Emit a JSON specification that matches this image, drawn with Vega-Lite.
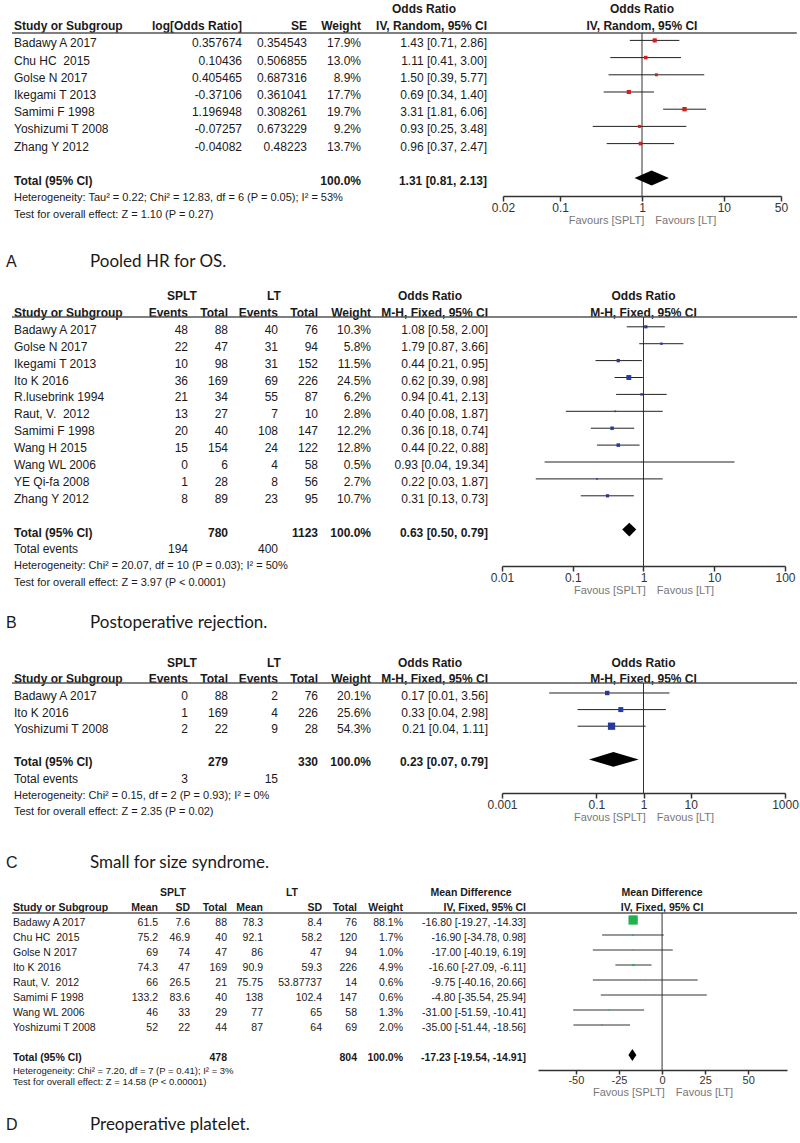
{
"$schema":"https://vega.github.io/schema/vega-lite/v6.json",
"padding":0,
"background":"white",
"spacing":0,
"config":{
 "view":{"stroke":null},
 "text":{"font":"Liberation Sans","fontSize":12,"color":"#1a1a1a","baseline":"middle"},
 "axis":{"grid":false,"domainColor":"#333","domainWidth":1.5,"tickColor":"#333","tickWidth":1.5,"tickSize":5,"labelFont":"Liberation Sans","labelFontSize":12,"labelColor":"#333","labelPadding":1,"labelFlush":false,"labelOverlap":false,"titleFont":"Liberation Sans","titleFontSize":11,"titleFontWeight":"normal","titleColor":"#777","titlePadding":1}
},
"datasets":{
"A":[
{"kind":"h0","row":0,"g3":"Odds Ratio","p":"Odds Ratio"},
{"kind":"h","row":1,"study":"Study or Subgroup","c1":"log[Odds Ratio]","c2":"SE","wt":"Weight","ci":"IV, Random, 95% CI","p":"IV, Random, 95% CI"},
{"kind":"s","row":2,"study":"Badawy A 2017","c1":0.357674,"c2":0.354543,"w":17.9,"est":1.43,"lo":0.71,"hi":2.86,"ci":"1.43 [0.71, 2.86]"},
{"kind":"s","row":3,"study":"Chu HC\u00a0 2015","c1":0.10436,"c2":0.506855,"w":13.0,"est":1.11,"lo":0.41,"hi":3.00,"ci":"1.11 [0.41, 3.00]"},
{"kind":"s","row":4,"study":"Golse N 2017","c1":0.405465,"c2":0.687316,"w":8.9,"est":1.50,"lo":0.39,"hi":5.77,"ci":"1.50 [0.39, 5.77]"},
{"kind":"s","row":5,"study":"Ikegami T 2013","c1":-0.37106,"c2":0.361041,"w":17.7,"est":0.69,"lo":0.34,"hi":1.40,"ci":"0.69 [0.34, 1.40]"},
{"kind":"s","row":6,"study":"Samimi F 1998","c1":1.196948,"c2":0.308261,"w":19.7,"est":3.31,"lo":1.81,"hi":6.06,"ci":"3.31 [1.81, 6.06]"},
{"kind":"s","row":7,"study":"Yoshizumi T 2008","c1":-0.07257,"c2":0.673229,"w":9.2,"est":0.93,"lo":0.25,"hi":3.48,"ci":"0.93 [0.25, 3.48]"},
{"kind":"s","row":8,"study":"Zhang Y 2012","c1":-0.04082,"c2":0.48223,"w":13.7,"est":0.96,"lo":0.37,"hi":2.47,"ci":"0.96 [0.37, 2.47]"},
{"kind":"t","row":10,"study":"Total (95% CI)","w":100,"est":1.31,"lo":0.81,"hi":2.13,"ci":"1.31 [0.81, 2.13]"},
{"kind":"n","row":11,"study":"Heterogeneity: Tau² = 0.22; Chi² = 12.83, df = 6 (P = 0.05); I² = 53%"},
{"kind":"n","row":12,"study":"Test for overall effect: Z = 1.10 (P = 0.27)"},
{"kind":"L","row":15,"letter":"A","title":"Pooled HR for OS."}
],
"B":[
{"kind":"h0","row":0,"g1":"SPLT","g2":"LT","g3":"Odds Ratio","p":"Odds Ratio"},
{"kind":"h","row":1,"study":"Study or Subgroup","e1":"Events","t1":"Total","e2":"Events","t2":"Total","wt":"Weight","ci":"M-H, Fixed, 95% CI","p":"M-H, Fixed, 95% CI"},
{"kind":"s","row":2,"study":"Badawy A 2017","e1":48,"t1":88,"e2":40,"t2":76,"w":10.3,"est":1.08,"lo":0.58,"hi":2.00,"ci":"1.08 [0.58, 2.00]"},
{"kind":"s","row":3,"study":"Golse N 2017","e1":22,"t1":47,"e2":31,"t2":94,"w":5.8,"est":1.79,"lo":0.87,"hi":3.66,"ci":"1.79 [0.87, 3.66]"},
{"kind":"s","row":4,"study":"Ikegami T 2013","e1":10,"t1":98,"e2":31,"t2":152,"w":11.5,"est":0.44,"lo":0.21,"hi":0.95,"ci":"0.44 [0.21, 0.95]"},
{"kind":"s","row":5,"study":"Ito K 2016","e1":36,"t1":169,"e2":69,"t2":226,"w":24.5,"est":0.62,"lo":0.39,"hi":0.98,"ci":"0.62 [0.39, 0.98]"},
{"kind":"s","row":6,"study":"R.lusebrink 1994","e1":21,"t1":34,"e2":55,"t2":87,"w":6.2,"est":0.94,"lo":0.41,"hi":2.13,"ci":"0.94 [0.41, 2.13]"},
{"kind":"s","row":7,"study":"Raut, V.\u00a0 2012","e1":13,"t1":27,"e2":7,"t2":10,"w":2.8,"est":0.40,"lo":0.08,"hi":1.87,"ci":"0.40 [0.08, 1.87]"},
{"kind":"s","row":8,"study":"Samimi F 1998","e1":20,"t1":40,"e2":108,"t2":147,"w":12.2,"est":0.36,"lo":0.18,"hi":0.74,"ci":"0.36 [0.18, 0.74]"},
{"kind":"s","row":9,"study":"Wang H 2015","e1":15,"t1":154,"e2":24,"t2":122,"w":12.8,"est":0.44,"lo":0.22,"hi":0.88,"ci":"0.44 [0.22, 0.88]"},
{"kind":"s","row":10,"study":"Wang WL 2006","e1":0,"t1":6,"e2":4,"t2":58,"w":0.5,"est":0.93,"lo":0.04,"hi":19.34,"ci":"0.93 [0.04, 19.34]"},
{"kind":"s","row":11,"study":"YE Qi-fa 2008","e1":1,"t1":28,"e2":8,"t2":56,"w":2.7,"est":0.22,"lo":0.03,"hi":1.87,"ci":"0.22 [0.03, 1.87]"},
{"kind":"s","row":12,"study":"Zhang Y 2012","e1":8,"t1":89,"e2":23,"t2":95,"w":10.7,"est":0.31,"lo":0.13,"hi":0.73,"ci":"0.31 [0.13, 0.73]"},
{"kind":"t","row":14,"study":"Total (95% CI)","t1":780,"t2":1123,"w":100,"est":0.63,"lo":0.50,"hi":0.79,"ci":"0.63 [0.50, 0.79]"},
{"kind":"e","row":15,"study":"Total events","e1":194,"e2":400},
{"kind":"n","row":16,"study":"Heterogeneity: Chi² = 20.07, df = 10 (P = 0.03); I² = 50%"},
{"kind":"n","row":17,"study":"Test for overall effect: Z = 3.97 (P < 0.0001)"},
{"kind":"L","row":19,"letter":"B","title":"Postoperative rejection."}
],
"C":[
{"kind":"h0","row":0,"g1":"SPLT","g2":"LT","g3":"Odds Ratio","p":"Odds Ratio"},
{"kind":"h","row":1,"study":"Study or Subgroup","e1":"Events","t1":"Total","e2":"Events","t2":"Total","wt":"Weight","ci":"M-H, Fixed, 95% CI","p":"M-H, Fixed, 95% CI"},
{"kind":"s","row":2,"study":"Badawy A 2017","e1":0,"t1":88,"e2":2,"t2":76,"w":20.1,"est":0.17,"lo":0.01,"hi":3.56,"ci":"0.17 [0.01, 3.56]"},
{"kind":"s","row":3,"study":"Ito K 2016","e1":1,"t1":169,"e2":4,"t2":226,"w":25.6,"est":0.33,"lo":0.04,"hi":2.98,"ci":"0.33 [0.04, 2.98]"},
{"kind":"s","row":4,"study":"Yoshizumi T 2008","e1":2,"t1":22,"e2":9,"t2":28,"w":54.3,"est":0.21,"lo":0.04,"hi":1.11,"ci":"0.21 [0.04, 1.11]"},
{"kind":"t","row":6,"study":"Total (95% CI)","t1":279,"t2":330,"w":100,"est":0.23,"lo":0.07,"hi":0.79,"ci":"0.23 [0.07, 0.79]"},
{"kind":"e","row":7,"study":"Total events","e1":3,"e2":15},
{"kind":"n","row":8,"study":"Heterogeneity: Chi² = 0.15, df = 2 (P = 0.93); I² = 0%"},
{"kind":"n","row":9,"study":"Test for overall effect: Z = 2.35 (P = 0.02)"},
{"kind":"L","row":12,"letter":"C","title":"Small for size syndrome."}
],
"D":[
{"kind":"h0","row":0,"g1":"SPLT","g2":"LT","g3":"Mean Difference","p":"Mean Difference"},
{"kind":"h","row":1,"study":"Study or Subgroup","m1":"Mean","s1":"SD","n1":"Total","m2":"Mean","s2":"SD","n2":"Total","wt":"Weight","ci":"IV, Fixed, 95% CI","p":"IV, Fixed, 95% CI"},
{"kind":"s","row":2,"study":"Badawy A 2017","m1":61.5,"s1":7.6,"n1":88,"m2":78.3,"s2":8.4,"n2":76,"w":88.1,"est":-16.80,"lo":-19.27,"hi":-14.33,"ci":"-16.80 [-19.27, -14.33]"},
{"kind":"s","row":3,"study":"Chu HC\u00a0 2015","m1":75.2,"s1":46.9,"n1":40,"m2":92.1,"s2":58.2,"n2":120,"w":1.7,"est":-16.90,"lo":-34.78,"hi":0.98,"ci":"-16.90 [-34.78, 0.98]"},
{"kind":"s","row":4,"study":"Golse N 2017","m1":69,"s1":74,"n1":47,"m2":86,"s2":47,"n2":94,"w":1.0,"est":-17.00,"lo":-40.19,"hi":6.19,"ci":"-17.00 [-40.19, 6.19]"},
{"kind":"s","row":5,"study":"Ito K 2016","m1":74.3,"s1":47,"n1":169,"m2":90.9,"s2":59.3,"n2":226,"w":4.9,"est":-16.60,"lo":-27.09,"hi":-6.11,"ci":"-16.60 [-27.09, -6.11]"},
{"kind":"s","row":6,"study":"Raut, V.\u00a0 2012","m1":66,"s1":26.5,"n1":21,"m2":75.75,"s2":53.87737,"n2":14,"w":0.6,"est":-9.75,"lo":-40.16,"hi":20.66,"ci":"-9.75 [-40.16, 20.66]"},
{"kind":"s","row":7,"study":"Samimi F 1998","m1":133.2,"s1":83.6,"n1":40,"m2":138,"s2":102.4,"n2":147,"w":0.6,"est":-4.80,"lo":-35.54,"hi":25.94,"ci":"-4.80 [-35.54, 25.94]"},
{"kind":"s","row":8,"study":"Wang WL 2006","m1":46,"s1":33,"n1":29,"m2":77,"s2":65,"n2":58,"w":1.3,"est":-31.00,"lo":-51.59,"hi":-10.41,"ci":"-31.00 [-51.59, -10.41]"},
{"kind":"s","row":9,"study":"Yoshizumi T 2008","m1":52,"s1":22,"n1":44,"m2":87,"s2":64,"n2":69,"w":2.0,"est":-35.00,"lo":-51.44,"hi":-18.56,"ci":"-35.00 [-51.44, -18.56]"},
{"kind":"t","row":11,"study":"Total (95% CI)","n1":478,"n2":804,"w":100,"est":-17.23,"lo":-19.54,"hi":-14.91,"ci":"-17.23 [-19.54, -14.91]"},
{"kind":"n","row":12,"study":"Heterogeneity: Chi² = 7.20, df = 7 (P = 0.41); I² = 3%"},
{"kind":"n","row":13,"study":"Test for overall effect: Z = 14.58 (P < 0.00001)"},
{"kind":"L","row":15,"letter":"D","title":"Preoperative platelet."}
]
},
"vconcat":[
{"spacing":0,"bounds":"flush","hconcat":[
 {"width":503,"height":280,"data":{"name":"A"},
  "transform":[{"calculate":"isValid(datum.w) ? format(datum.w, '.1f') + '%' : datum.wt","as":"wtx"}],
  "encoding":{"y":{"field":"row","type":"quantitative","scale":{"domain":[-0.523,15.756],"reverse":true,"nice":false,"zero":false},"axis":null}},
  "layer":[
   {"transform":[{"filter":"datum.kind=='s'"}],"mark":{"type":"text","align":"left"},"encoding":{"x":{"datum":14,"scale":{"domain":[0,503],"nice":false,"zero":false},"axis":null},"text":{"field":"study","type":"nominal"}}},
   {"transform":[{"filter":"datum.kind=='h'||datum.kind=='t'"}],"mark":{"type":"text","align":"left","fontWeight":"bold"},"encoding":{"x":{"datum":14,"axis":null},"text":{"field":"study","type":"nominal"}}},
   {"transform":[{"filter":"datum.kind=='n'"}],"mark":{"type":"text","align":"left","fontSize":11},"encoding":{"x":{"datum":14,"axis":null},"text":{"field":"study","type":"nominal"}}},
   {"transform":[{"filter":"datum.kind=='s'"}],"mark":{"type":"text","align":"right"},"encoding":{"x":{"datum":242,"axis":null},"text":{"field":"c1","type":"nominal"}}},
   {"transform":[{"filter":"datum.kind=='h'"}],"mark":{"type":"text","align":"right","fontWeight":"bold"},"encoding":{"x":{"datum":242,"axis":null},"text":{"field":"c1","type":"nominal"}}},
   {"transform":[{"filter":"datum.kind=='s'"}],"mark":{"type":"text","align":"right"},"encoding":{"x":{"datum":307,"axis":null},"text":{"field":"c2","type":"nominal"}}},
   {"transform":[{"filter":"datum.kind=='h'"}],"mark":{"type":"text","align":"right","fontWeight":"bold"},"encoding":{"x":{"datum":307,"axis":null},"text":{"field":"c2","type":"nominal"}}},
   {"transform":[{"filter":"datum.kind=='s'"}],"mark":{"type":"text","align":"right"},"encoding":{"x":{"datum":361,"axis":null},"text":{"field":"wtx","type":"nominal"}}},
   {"transform":[{"filter":"datum.kind=='h'||datum.kind=='t'"}],"mark":{"type":"text","align":"right","fontWeight":"bold"},"encoding":{"x":{"datum":361,"axis":null},"text":{"field":"wtx","type":"nominal"}}},
   {"transform":[{"filter":"datum.kind=='s'"}],"mark":{"type":"text","align":"right"},"encoding":{"x":{"datum":487,"axis":null},"text":{"field":"ci","type":"nominal"}}},
   {"transform":[{"filter":"datum.kind=='h'||datum.kind=='t'"}],"mark":{"type":"text","align":"right","fontWeight":"bold"},"encoding":{"x":{"datum":487,"axis":null},"text":{"field":"ci","type":"nominal"}}},
   {"transform":[{"filter":"datum.kind=='h0'"}],"mark":{"type":"text","align":"center","fontWeight":"bold"},"encoding":{"x":{"datum":424,"axis":null},"text":{"field":"g3","type":"nominal"}}},
   {"transform":[{"filter":"datum.kind=='h'"}],"mark":{"type":"rule","color":"#555","strokeWidth":1.5},"encoding":{"x":{"datum":12,"axis":null},"x2":{"datum":503},"y":{"datum":1.395,"axis":null}}},
   {"transform":[{"filter":"datum.kind=='L'"}],"mark":{"type":"text","align":"left","fontSize":16,"dy":-5},"encoding":{"x":{"datum":6,"axis":null},"text":{"field":"letter","type":"nominal"}}},
   {"transform":[{"filter":"datum.kind=='L'"}],"mark":{"type":"text","align":"left","font":"Lato","fontSize":17,"dy":-5},"encoding":{"x":{"datum":90,"axis":null},"text":{"field":"title","type":"nominal"}}}
  ]},
 {"width":278,"height":196,"data":{"name":"A"},
  "encoding":{"y":{"field":"row","type":"quantitative","scale":{"domain":[-0.523,10.872],"reverse":true,"nice":false,"zero":false},"axis":null}},
  "layer":[
   {"transform":[{"filter":"isValid(datum.p)"}],"mark":{"type":"text","align":"center","fontWeight":"bold"},"encoding":{"x":{"datum":1,"scale":{"type":"log","domain":[0.02,50],"nice":false},"axis":{"values":[0.02,0.1,1,10,50],"labelExpr":"''+datum.value","title":"Favours [SPLT]\u2002\u2002Favours [LT]"}},"text":{"field":"p","type":"nominal"}}},
   {"transform":[{"filter":"datum.kind=='h'"}],"mark":{"type":"rule","color":"#555","strokeWidth":1.5},"encoding":{"x":{"datum":0.02},"x2":{"datum":78},"y":{"datum":1.395,"axis":null}}},
   {"transform":[{"filter":"datum.kind=='h'"}],"mark":{"type":"rule","color":"#333","strokeWidth":1},"encoding":{"x":{"datum":1},"y":{"datum":1.395,"axis":null},"y2":{"datum":10.872}}},
   {"transform":[{"filter":"datum.kind=='s'"}],"mark":{"type":"rule","color":"#222","strokeWidth":1,"yOffset":-3},"encoding":{"x":{"field":"lo","type":"quantitative"},"x2":{"field":"hi"}}},
   {"transform":[{"filter":"datum.kind=='s'"}],"mark":{"type":"square","filled":true,"opacity":1,"color":"#d0201f","yOffset":-3},"encoding":{"x":{"field":"est","type":"quantitative"},"size":{"field":"w","type":"quantitative","scale":{"domain":[0,19.7],"range":[0,86]},"legend":null}}},
   {"transform":[{"filter":"datum.kind=='t'"},{"fold":["lo","est","hi"],"as":["key","xv"]},{"calculate":"datum.key=='est' ? 0.43 : 0","as":"half"},{"calculate":"datum.row - datum.half","as":"ya"},{"calculate":"datum.row + datum.half","as":"yb"}],"mark":{"type":"area","color":"black","opacity":1,"orient":"vertical","yOffset":-3,"y2Offset":-3},"encoding":{"x":{"field":"xv","type":"quantitative"},"y":{"field":"ya","type":"quantitative","axis":null},"y2":{"field":"yb"}}}
  ]}
]},
{"spacing":0,"bounds":"flush","hconcat":[
 {"width":502,"height":365,"data":{"name":"B"},
  "transform":[{"calculate":"isValid(datum.w) ? format(datum.w, '.1f') + '%' : datum.wt","as":"wtx"}],
  "encoding":{"y":{"field":"row","type":"quantitative","scale":{"domain":[-0.947,20.651],"reverse":true,"nice":false,"zero":false},"axis":null}},
  "layer":[
   {"transform":[{"filter":"datum.kind=='s'||datum.kind=='e'"}],"mark":{"type":"text","align":"left"},"encoding":{"x":{"datum":14,"scale":{"domain":[0,502],"nice":false,"zero":false},"axis":null},"text":{"field":"study","type":"nominal"}}},
   {"transform":[{"filter":"datum.kind=='h'||datum.kind=='t'"}],"mark":{"type":"text","align":"left","fontWeight":"bold"},"encoding":{"x":{"datum":14,"axis":null},"text":{"field":"study","type":"nominal"}}},
   {"transform":[{"filter":"datum.kind=='n'"}],"mark":{"type":"text","align":"left","fontSize":11},"encoding":{"x":{"datum":14,"axis":null},"text":{"field":"study","type":"nominal"}}},
   {"transform":[{"filter":"(datum.kind=='s'||datum.kind=='e') && isValid(datum.e1)"}],"mark":{"type":"text","align":"right"},"encoding":{"x":{"datum":188,"axis":null},"text":{"field":"e1","type":"nominal"}}},
   {"transform":[{"filter":"datum.kind=='h'"}],"mark":{"type":"text","align":"right","fontWeight":"bold"},"encoding":{"x":{"datum":188,"axis":null},"text":{"field":"e1","type":"nominal"}}},
   {"transform":[{"filter":"datum.kind=='s'"}],"mark":{"type":"text","align":"right"},"encoding":{"x":{"datum":228,"axis":null},"text":{"field":"t1","type":"nominal"}}},
   {"transform":[{"filter":"datum.kind=='h'||datum.kind=='t'"}],"mark":{"type":"text","align":"right","fontWeight":"bold"},"encoding":{"x":{"datum":228,"axis":null},"text":{"field":"t1","type":"nominal"}}},
   {"transform":[{"filter":"(datum.kind=='s'||datum.kind=='e') && isValid(datum.e2)"}],"mark":{"type":"text","align":"right"},"encoding":{"x":{"datum":278,"axis":null},"text":{"field":"e2","type":"nominal"}}},
   {"transform":[{"filter":"datum.kind=='h'"}],"mark":{"type":"text","align":"right","fontWeight":"bold"},"encoding":{"x":{"datum":278,"axis":null},"text":{"field":"e2","type":"nominal"}}},
   {"transform":[{"filter":"datum.kind=='s'"}],"mark":{"type":"text","align":"right"},"encoding":{"x":{"datum":318,"axis":null},"text":{"field":"t2","type":"nominal"}}},
   {"transform":[{"filter":"datum.kind=='h'||datum.kind=='t'"}],"mark":{"type":"text","align":"right","fontWeight":"bold"},"encoding":{"x":{"datum":318,"axis":null},"text":{"field":"t2","type":"nominal"}}},
   {"transform":[{"filter":"datum.kind=='s'"}],"mark":{"type":"text","align":"right"},"encoding":{"x":{"datum":371,"axis":null},"text":{"field":"wtx","type":"nominal"}}},
   {"transform":[{"filter":"datum.kind=='h'||datum.kind=='t'"}],"mark":{"type":"text","align":"right","fontWeight":"bold"},"encoding":{"x":{"datum":371,"axis":null},"text":{"field":"wtx","type":"nominal"}}},
   {"transform":[{"filter":"datum.kind=='s'"}],"mark":{"type":"text","align":"right"},"encoding":{"x":{"datum":488,"axis":null},"text":{"field":"ci","type":"nominal"}}},
   {"transform":[{"filter":"datum.kind=='h'||datum.kind=='t'"}],"mark":{"type":"text","align":"right","fontWeight":"bold"},"encoding":{"x":{"datum":488,"axis":null},"text":{"field":"ci","type":"nominal"}}},
   {"transform":[{"filter":"datum.kind=='h0'"}],"mark":{"type":"text","align":"center","fontWeight":"bold"},"encoding":{"x":{"datum":182,"axis":null},"text":{"field":"g1","type":"nominal"}}},
   {"transform":[{"filter":"datum.kind=='h0'"}],"mark":{"type":"text","align":"center","fontWeight":"bold"},"encoding":{"x":{"datum":274,"axis":null},"text":{"field":"g2","type":"nominal"}}},
   {"transform":[{"filter":"datum.kind=='h0'"}],"mark":{"type":"text","align":"center","fontWeight":"bold"},"encoding":{"x":{"datum":430,"axis":null},"text":{"field":"g3","type":"nominal"}}},
   {"transform":[{"filter":"datum.kind=='h'"}],"mark":{"type":"rule","color":"#555","strokeWidth":1.5},"encoding":{"x":{"datum":12,"axis":null},"x2":{"datum":502},"y":{"datum":1.243,"axis":null}}},
   {"transform":[{"filter":"datum.kind=='L'"}],"mark":{"type":"text","align":"left","fontSize":16,"dy":6},"encoding":{"x":{"datum":6,"axis":null},"text":{"field":"letter","type":"nominal"}}},
   {"transform":[{"filter":"datum.kind=='L'"}],"mark":{"type":"text","align":"left","font":"Lato","fontSize":17,"dy":6},"encoding":{"x":{"datum":90,"axis":null},"text":{"field":"title","type":"nominal"}}}
  ]},
 {"width":283,"height":286,"data":{"name":"B"},
  "encoding":{"y":{"field":"row","type":"quantitative","scale":{"domain":[-0.947,15.976],"reverse":true,"nice":false,"zero":false},"axis":null}},
  "layer":[
   {"transform":[{"filter":"isValid(datum.p)"}],"mark":{"type":"text","align":"center","fontWeight":"bold"},"encoding":{"x":{"datum":1,"scale":{"type":"log","domain":[0.01,100],"nice":false},"axis":{"values":[0.01,0.1,1,10,100],"labelExpr":"''+datum.value","title":"Favous [SPLT]\u2002\u2002Favous [LT]"}},"text":{"field":"p","type":"nominal"}}},
   {"transform":[{"filter":"datum.kind=='h'"}],"mark":{"type":"rule","color":"#555","strokeWidth":1.5},"encoding":{"x":{"datum":0.01},"x2":{"datum":148},"y":{"datum":1.243,"axis":null}}},
   {"transform":[{"filter":"datum.kind=='h'"}],"mark":{"type":"rule","color":"#333","strokeWidth":1},"encoding":{"x":{"datum":1},"y":{"datum":1.243,"axis":null},"y2":{"datum":15.976}}},
   {"transform":[{"filter":"datum.kind=='s'"}],"mark":{"type":"rule","color":"#222","strokeWidth":1,"yOffset":-3},"encoding":{"x":{"field":"lo","type":"quantitative"},"x2":{"field":"hi"}}},
   {"transform":[{"filter":"datum.kind=='s'"}],"mark":{"type":"square","filled":true,"opacity":1,"color":"#26399e","yOffset":-3},"encoding":{"x":{"field":"est","type":"quantitative"},"size":{"field":"w","type":"quantitative","scale":{"domain":[0,24.5],"range":[0,132]},"legend":null}}},
   {"transform":[{"filter":"datum.kind=='t'"},{"fold":["lo","est","hi"],"as":["key","xv"]},{"calculate":"datum.key=='est' ? 0.41 : 0","as":"half"},{"calculate":"datum.row - datum.half","as":"ya"},{"calculate":"datum.row + datum.half","as":"yb"}],"mark":{"type":"area","color":"black","opacity":1,"orient":"vertical","yOffset":-3,"y2Offset":-3},"encoding":{"x":{"field":"xv","type":"quantitative"},"y":{"field":"ya","type":"quantitative","axis":null},"y2":{"field":"yb"}}}
  ]}
]},
{"spacing":0,"bounds":"flush","hconcat":[
 {"width":502,"height":230,"data":{"name":"C"},
  "transform":[{"calculate":"isValid(datum.w) ? format(datum.w, '.1f') + '%' : datum.wt","as":"wtx"}],
  "encoding":{"y":{"field":"row","type":"quantitative","scale":{"domain":[-1.072,12.783],"reverse":true,"nice":false,"zero":false},"axis":null}},
  "layer":[
   {"transform":[{"filter":"datum.kind=='s'||datum.kind=='e'"}],"mark":{"type":"text","align":"left"},"encoding":{"x":{"datum":14,"scale":{"domain":[0,502],"nice":false,"zero":false},"axis":null},"text":{"field":"study","type":"nominal"}}},
   {"transform":[{"filter":"datum.kind=='h'||datum.kind=='t'"}],"mark":{"type":"text","align":"left","fontWeight":"bold"},"encoding":{"x":{"datum":14,"axis":null},"text":{"field":"study","type":"nominal"}}},
   {"transform":[{"filter":"datum.kind=='n'"}],"mark":{"type":"text","align":"left","fontSize":11},"encoding":{"x":{"datum":14,"axis":null},"text":{"field":"study","type":"nominal"}}},
   {"transform":[{"filter":"(datum.kind=='s'||datum.kind=='e') && isValid(datum.e1)"}],"mark":{"type":"text","align":"right"},"encoding":{"x":{"datum":188,"axis":null},"text":{"field":"e1","type":"nominal"}}},
   {"transform":[{"filter":"datum.kind=='h'"}],"mark":{"type":"text","align":"right","fontWeight":"bold"},"encoding":{"x":{"datum":188,"axis":null},"text":{"field":"e1","type":"nominal"}}},
   {"transform":[{"filter":"datum.kind=='s'"}],"mark":{"type":"text","align":"right"},"encoding":{"x":{"datum":228,"axis":null},"text":{"field":"t1","type":"nominal"}}},
   {"transform":[{"filter":"datum.kind=='h'||datum.kind=='t'"}],"mark":{"type":"text","align":"right","fontWeight":"bold"},"encoding":{"x":{"datum":228,"axis":null},"text":{"field":"t1","type":"nominal"}}},
   {"transform":[{"filter":"(datum.kind=='s'||datum.kind=='e') && isValid(datum.e2)"}],"mark":{"type":"text","align":"right"},"encoding":{"x":{"datum":278,"axis":null},"text":{"field":"e2","type":"nominal"}}},
   {"transform":[{"filter":"datum.kind=='h'"}],"mark":{"type":"text","align":"right","fontWeight":"bold"},"encoding":{"x":{"datum":278,"axis":null},"text":{"field":"e2","type":"nominal"}}},
   {"transform":[{"filter":"datum.kind=='s'"}],"mark":{"type":"text","align":"right"},"encoding":{"x":{"datum":318,"axis":null},"text":{"field":"t2","type":"nominal"}}},
   {"transform":[{"filter":"datum.kind=='h'||datum.kind=='t'"}],"mark":{"type":"text","align":"right","fontWeight":"bold"},"encoding":{"x":{"datum":318,"axis":null},"text":{"field":"t2","type":"nominal"}}},
   {"transform":[{"filter":"datum.kind=='s'"}],"mark":{"type":"text","align":"right"},"encoding":{"x":{"datum":371,"axis":null},"text":{"field":"wtx","type":"nominal"}}},
   {"transform":[{"filter":"datum.kind=='h'||datum.kind=='t'"}],"mark":{"type":"text","align":"right","fontWeight":"bold"},"encoding":{"x":{"datum":371,"axis":null},"text":{"field":"wtx","type":"nominal"}}},
   {"transform":[{"filter":"datum.kind=='s'"}],"mark":{"type":"text","align":"right"},"encoding":{"x":{"datum":488,"axis":null},"text":{"field":"ci","type":"nominal"}}},
   {"transform":[{"filter":"datum.kind=='h'||datum.kind=='t'"}],"mark":{"type":"text","align":"right","fontWeight":"bold"},"encoding":{"x":{"datum":488,"axis":null},"text":{"field":"ci","type":"nominal"}}},
   {"transform":[{"filter":"datum.kind=='h0'"}],"mark":{"type":"text","align":"center","fontWeight":"bold"},"encoding":{"x":{"datum":182,"axis":null},"text":{"field":"g1","type":"nominal"}}},
   {"transform":[{"filter":"datum.kind=='h0'"}],"mark":{"type":"text","align":"center","fontWeight":"bold"},"encoding":{"x":{"datum":274,"axis":null},"text":{"field":"g2","type":"nominal"}}},
   {"transform":[{"filter":"datum.kind=='h0'"}],"mark":{"type":"text","align":"center","fontWeight":"bold"},"encoding":{"x":{"datum":430,"axis":null},"text":{"field":"g3","type":"nominal"}}},
   {"transform":[{"filter":"datum.kind=='h'"}],"mark":{"type":"rule","color":"#555","strokeWidth":1.5},"encoding":{"x":{"datum":12,"axis":null},"x2":{"datum":502},"y":{"datum":1.217,"axis":null}}},
   {"transform":[{"filter":"datum.kind=='L'"}],"mark":{"type":"text","align":"left","fontSize":16,"dy":1},"encoding":{"x":{"datum":6,"axis":null},"text":{"field":"letter","type":"nominal"}}},
   {"transform":[{"filter":"datum.kind=='L'"}],"mark":{"type":"text","align":"left","font":"Lato","fontSize":17,"dy":1},"encoding":{"x":{"datum":90,"axis":null},"text":{"field":"title","type":"nominal"}}}
  ]},
 {"width":283,"height":148,"data":{"name":"C"},
  "encoding":{"y":{"field":"row","type":"quantitative","scale":{"domain":[-1.072,7.843],"reverse":true,"nice":false,"zero":false},"axis":null}},
  "layer":[
   {"transform":[{"filter":"isValid(datum.p)"}],"mark":{"type":"text","align":"center","fontWeight":"bold"},"encoding":{"x":{"datum":1,"scale":{"type":"log","domain":[0.001,1000],"nice":false},"axis":{"values":[0.001,0.1,1,10,1000],"labelExpr":"''+datum.value","title":"Favous [SPLT]\u2002\u2002Favous [LT]"}},"text":{"field":"p","type":"nominal"}}},
   {"transform":[{"filter":"datum.kind=='h'"}],"mark":{"type":"rule","color":"#555","strokeWidth":1.5},"encoding":{"x":{"datum":0.001},"x2":{"datum":1795},"y":{"datum":1.217,"axis":null}}},
   {"transform":[{"filter":"datum.kind=='h'"}],"mark":{"type":"rule","color":"#333","strokeWidth":1},"encoding":{"x":{"datum":1},"y":{"datum":1.217,"axis":null},"y2":{"datum":7.843}}},
   {"transform":[{"filter":"datum.kind=='s'"}],"mark":{"type":"rule","color":"#222","strokeWidth":1,"yOffset":-3},"encoding":{"x":{"field":"lo","type":"quantitative"},"x2":{"field":"hi"}}},
   {"transform":[{"filter":"datum.kind=='s'"}],"mark":{"type":"square","filled":true,"opacity":1,"color":"#26399e","yOffset":-3},"encoding":{"x":{"field":"est","type":"quantitative"},"size":{"field":"w","type":"quantitative","scale":{"domain":[0,54.3],"range":[0,300]},"legend":null}}},
   {"transform":[{"filter":"datum.kind=='t'"},{"fold":["lo","est","hi"],"as":["key","xv"]},{"calculate":"datum.key=='est' ? 0.45 : 0","as":"half"},{"calculate":"datum.row - datum.half","as":"ya"},{"calculate":"datum.row + datum.half","as":"yb"}],"mark":{"type":"area","color":"black","opacity":1,"orient":"vertical","yOffset":-3,"y2Offset":-3},"encoding":{"x":{"field":"xv","type":"quantitative"},"y":{"field":"ya","type":"quantitative","axis":null},"y2":{"field":"yb"}}}
  ]}
]},
{"spacing":0,"bounds":"flush","hconcat":[
 {"width":538,"height":268,"data":{"name":"D"},
  "transform":[{"calculate":"isValid(datum.w) ? format(datum.w, '.1f') + '%' : datum.wt","as":"wtx"}],
  "encoding":{"y":{"field":"row","type":"quantitative","scale":{"domain":[-1.2,16.667],"reverse":true,"nice":false,"zero":false},"axis":null}},
  "layer":[
   {"transform":[{"filter":"datum.kind=='s'"}],"mark":{"type":"text","align":"left","fontSize":10.5},"encoding":{"x":{"datum":13,"scale":{"domain":[0,538],"nice":false,"zero":false},"axis":null},"text":{"field":"study","type":"nominal"}}},
   {"transform":[{"filter":"datum.kind=='h'||datum.kind=='t'"}],"mark":{"type":"text","align":"left","fontWeight":"bold","fontSize":10.5},"encoding":{"x":{"datum":13,"axis":null},"text":{"field":"study","type":"nominal"}}},
   {"transform":[{"filter":"datum.kind=='n' && datum.row==12"}],"mark":{"type":"text","align":"left","fontSize":9.5,"dy":-2},"encoding":{"x":{"datum":13,"axis":null},"text":{"field":"study","type":"nominal"}}},
   {"transform":[{"filter":"datum.kind=='n' && datum.row==13"}],"mark":{"type":"text","align":"left","fontSize":9.5,"dy":-6},"encoding":{"x":{"datum":13,"axis":null},"text":{"field":"study","type":"nominal"}}},
   {"transform":[{"filter":"datum.kind=='s'"}],"mark":{"type":"text","align":"right","fontSize":10.5},"encoding":{"x":{"datum":158,"axis":null},"text":{"field":"m1","type":"nominal"}}},
   {"transform":[{"filter":"datum.kind=='h'"}],"mark":{"type":"text","align":"right","fontWeight":"bold","fontSize":10.5},"encoding":{"x":{"datum":158,"axis":null},"text":{"field":"m1","type":"nominal"}}},
   {"transform":[{"filter":"datum.kind=='s'"}],"mark":{"type":"text","align":"right","fontSize":10.5},"encoding":{"x":{"datum":190,"axis":null},"text":{"field":"s1","type":"nominal"}}},
   {"transform":[{"filter":"datum.kind=='h'"}],"mark":{"type":"text","align":"right","fontWeight":"bold","fontSize":10.5},"encoding":{"x":{"datum":190,"axis":null},"text":{"field":"s1","type":"nominal"}}},
   {"transform":[{"filter":"datum.kind=='s'"}],"mark":{"type":"text","align":"right","fontSize":10.5},"encoding":{"x":{"datum":227,"axis":null},"text":{"field":"n1","type":"nominal"}}},
   {"transform":[{"filter":"datum.kind=='h'||datum.kind=='t'"}],"mark":{"type":"text","align":"right","fontWeight":"bold","fontSize":10.5},"encoding":{"x":{"datum":227,"axis":null},"text":{"field":"n1","type":"nominal"}}},
   {"transform":[{"filter":"datum.kind=='s'"}],"mark":{"type":"text","align":"right","fontSize":10.5},"encoding":{"x":{"datum":263,"axis":null},"text":{"field":"m2","type":"nominal"}}},
   {"transform":[{"filter":"datum.kind=='h'"}],"mark":{"type":"text","align":"right","fontWeight":"bold","fontSize":10.5},"encoding":{"x":{"datum":263,"axis":null},"text":{"field":"m2","type":"nominal"}}},
   {"transform":[{"filter":"datum.kind=='s'"}],"mark":{"type":"text","align":"right","fontSize":10.5},"encoding":{"x":{"datum":322,"axis":null},"text":{"field":"s2","type":"nominal"}}},
   {"transform":[{"filter":"datum.kind=='h'"}],"mark":{"type":"text","align":"right","fontWeight":"bold","fontSize":10.5},"encoding":{"x":{"datum":322,"axis":null},"text":{"field":"s2","type":"nominal"}}},
   {"transform":[{"filter":"datum.kind=='s'"}],"mark":{"type":"text","align":"right","fontSize":10.5},"encoding":{"x":{"datum":357,"axis":null},"text":{"field":"n2","type":"nominal"}}},
   {"transform":[{"filter":"datum.kind=='h'||datum.kind=='t'"}],"mark":{"type":"text","align":"right","fontWeight":"bold","fontSize":10.5},"encoding":{"x":{"datum":357,"axis":null},"text":{"field":"n2","type":"nominal"}}},
   {"transform":[{"filter":"datum.kind=='s'"}],"mark":{"type":"text","align":"right","fontSize":10.5},"encoding":{"x":{"datum":403,"axis":null},"text":{"field":"wtx","type":"nominal"}}},
   {"transform":[{"filter":"datum.kind=='h'||datum.kind=='t'"}],"mark":{"type":"text","align":"right","fontWeight":"bold","fontSize":10.5},"encoding":{"x":{"datum":403,"axis":null},"text":{"field":"wtx","type":"nominal"}}},
   {"transform":[{"filter":"datum.kind=='s'"}],"mark":{"type":"text","align":"right","fontSize":10.5},"encoding":{"x":{"datum":526,"axis":null},"text":{"field":"ci","type":"nominal"}}},
   {"transform":[{"filter":"datum.kind=='h'||datum.kind=='t'"}],"mark":{"type":"text","align":"right","fontWeight":"bold","fontSize":10.5},"encoding":{"x":{"datum":526,"axis":null},"text":{"field":"ci","type":"nominal"}}},
   {"transform":[{"filter":"datum.kind=='h0'"}],"mark":{"type":"text","align":"center","fontWeight":"bold","fontSize":10.5},"encoding":{"x":{"datum":173,"axis":null},"text":{"field":"g1","type":"nominal"}}},
   {"transform":[{"filter":"datum.kind=='h0'"}],"mark":{"type":"text","align":"center","fontWeight":"bold","fontSize":10.5},"encoding":{"x":{"datum":292,"axis":null},"text":{"field":"g2","type":"nominal"}}},
   {"transform":[{"filter":"datum.kind=='h0'"}],"mark":{"type":"text","align":"center","fontWeight":"bold","fontSize":10.5},"encoding":{"x":{"datum":471,"axis":null},"text":{"field":"g3","type":"nominal"}}},
   {"transform":[{"filter":"datum.kind=='h'"}],"mark":{"type":"rule","color":"#555","strokeWidth":1.5},"encoding":{"x":{"datum":12,"axis":null},"x2":{"datum":538},"y":{"datum":1.333,"axis":null}}},
   {"transform":[{"filter":"datum.kind=='L'"}],"mark":{"type":"text","align":"left","fontSize":16,"dy":7},"encoding":{"x":{"datum":6,"axis":null},"text":{"field":"letter","type":"nominal"}}},
   {"transform":[{"filter":"datum.kind=='L'"}],"mark":{"type":"text","align":"left","font":"Lato","fontSize":17,"dy":7},"encoding":{"x":{"datum":90,"axis":null},"text":{"field":"title","type":"nominal"}}}
  ]},
 {"width":249,"height":195,"data":{"name":"D"},
  "encoding":{"y":{"field":"row","type":"quantitative","scale":{"domain":[-1.2,11.8],"reverse":true,"nice":false,"zero":false},"axis":null}},
  "layer":[
   {"transform":[{"filter":"isValid(datum.p)"}],"mark":{"type":"text","align":"center","fontWeight":"bold","fontSize":10.5},"encoding":{"x":{"datum":0,"scale":{"type":"linear","domain":[-72,72.5],"nice":false,"zero":false},"axis":{"values":[-50,-25,0,25,50],"labelExpr":"''+datum.value","labelFontSize":11,"tickSize":4,"labelPadding":0,"title":"Favous [SPLT]\u2002\u2002Favous [LT]"}},"text":{"field":"p","type":"nominal"}}},
   {"transform":[{"filter":"datum.kind=='h'"}],"mark":{"type":"rule","color":"#555","strokeWidth":1.5},"encoding":{"x":{"datum":-72},"x2":{"datum":78.3},"y":{"datum":1.333,"axis":null}}},
   {"transform":[{"filter":"datum.kind=='h'"}],"mark":{"type":"rule","color":"#333","strokeWidth":1},"encoding":{"x":{"datum":0},"y":{"datum":1.333,"axis":null},"y2":{"datum":11.8}}},
   {"transform":[{"filter":"datum.kind=='s'"}],"mark":{"type":"rule","color":"#333","strokeWidth":1,"yOffset":-3},"encoding":{"x":{"field":"lo","type":"quantitative"},"x2":{"field":"hi"}}},
   {"transform":[{"filter":"datum.kind=='s'"}],"mark":{"type":"square","filled":true,"opacity":1,"color":"#22b14c","yOffset":-3},"encoding":{"x":{"field":"est","type":"quantitative"},"size":{"field":"w","type":"quantitative","scale":{"domain":[0,88.1],"range":[0,480]},"legend":null}}},
   {"transform":[{"filter":"datum.kind=='t'"},{"fold":["lo","est","hi"],"as":["key","xv"]},{"calculate":"datum.key=='est' ? 0.4 : 0","as":"half"},{"calculate":"datum.row - datum.half","as":"ya"},{"calculate":"datum.row + datum.half","as":"yb"}],"mark":{"type":"area","color":"black","opacity":1,"orient":"vertical","yOffset":-3,"y2Offset":-3},"encoding":{"x":{"field":"xv","type":"quantitative"},"y":{"field":"ya","type":"quantitative","axis":null},"y2":{"field":"yb"}}}
  ]}
]}
]
}
